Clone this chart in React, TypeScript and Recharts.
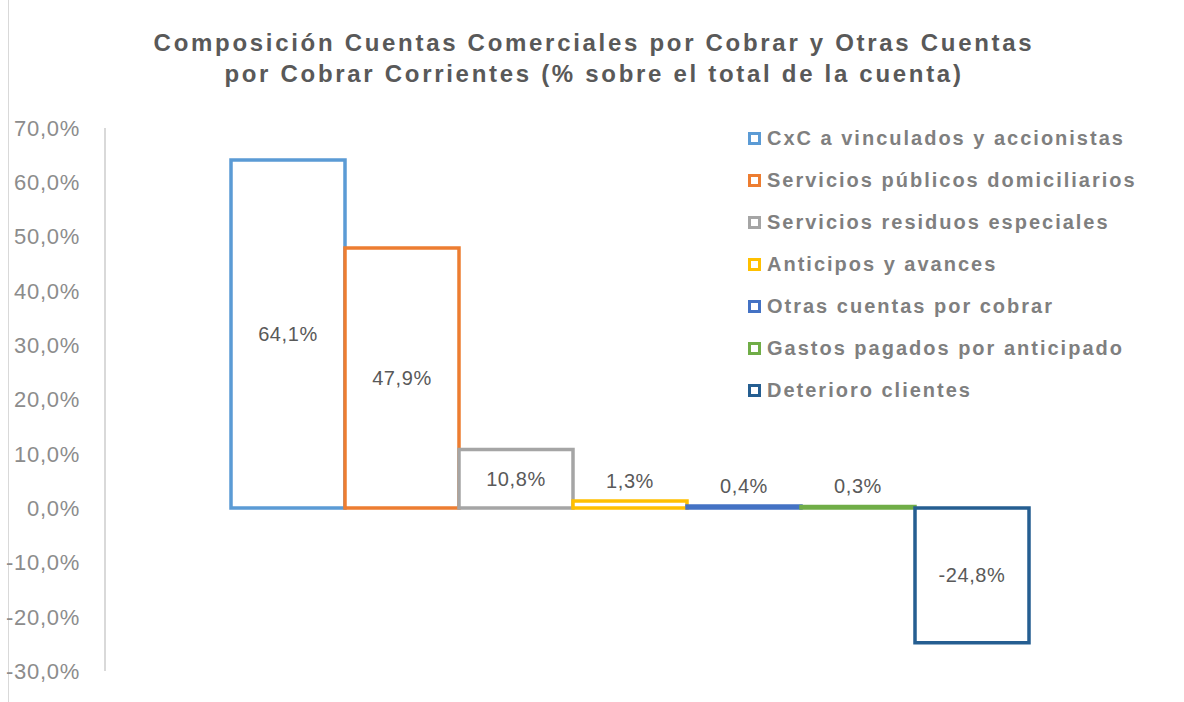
import { BarChart, Bar, XAxis, YAxis, LabelList } from "recharts";

// Series names (legend order) and their values, % of the account total
const seriesNames = [
  "CxC a vinculados y accionistas",
  "Servicios públicos domiciliarios",
  "Servicios residuos especiales",
  "Anticipos y avances",
  "Otras cuentas por cobrar",
  "Gastos pagados por anticipado",
  "Deterioro clientes",
];
const seriesValues = [64.1, 47.9, 10.8, 1.3, 0.4, 0.3, -24.8];
const seriesColors = ["#5B9BD5", "#ED7D31", "#A5A5A5", "#FFC000", "#4472C4", "#70AD47", "#255E91"];
const yTicks = [-30, -20, -10, 0, 10, 20, 30, 40, 50, 60, 70];

const titleLines = [
  "Composición Cuentas Comerciales por Cobrar y Otras Cuentas",
  "por Cobrar Corrientes (% sobre el total de la cuenta)",
];

const FONT = "'Liberation Sans', Arial, sans-serif";

const fmtPct = (v: number) => v.toFixed(1).replace(".", ",") + "%";

// one category, one key per series
const chartData = [
  seriesNames.reduce(
    (row, name, i) => ({ ...row, [`s${i}`]: seriesValues[i] }),
    { name: "total" } as Record<string, string | number>,
  ),
];

function BarValueLabel(props: any) {
  const { x, y, width, height, value } = props;
  const top = Math.min(y, y + height);
  const h = Math.abs(height);
  const cx = x + width / 2;
  // small bars get the label above, the rest centred
  const cy = h < 24 ? top - 20 : top + h / 2;
  return (
    <text
      x={cx}
      y={cy}
      textAnchor="middle"
      dominantBaseline="central"
      fontFamily={FONT}
      fontSize={20}
      letterSpacing={0.6}
      fill="#595959"
    >
      {fmtPct(Number(value))}
    </text>
  );
}

function ChartLegend() {
  return (
    <div
      style={{
        position: "absolute",
        left: 748,
        top: 117,
        fontFamily: FONT,
      }}
    >
      {seriesNames.map((name, i) => (
        <div
          key={name}
          style={{ display: "flex", alignItems: "center", height: 42 }}
        >
          <span
            style={{
              width: 7,
              height: 7,
              border: `3px solid ${seriesColors[i]}`,
              background: "#fff",
              marginRight: 6,
              flex: "none",
            }}
          />
          <span
            style={{
              fontSize: 20,
              fontWeight: "bold",
              color: "#7F7F7F",
              letterSpacing: 2,
              whiteSpace: "nowrap",
            }}
          >
            {name}
          </span>
        </div>
      ))}
    </div>
  );
}

export default function App() {
  return (
    <div
      style={{
        position: "absolute",
        left: 0,
        top: 0,
        width: 1184,
        height: 702,
        background: "#fff",
        overflow: "hidden",
      }}
    >
      <div
        style={{
          position: "absolute",
          left: 8,
          top: 0,
          width: 1,
          height: 702,
          background: "#D9D9D9",
        }}
      />
      <BarChart
        width={1184}
        height={702}
        data={chartData}
        margin={{ top: 128, right: 29, bottom: 31, left: 0 }}
        barGap={0}
      >
        <XAxis dataKey="name" hide />
        <YAxis
          type="number"
          domain={[-30, 70]}
          ticks={yTicks}
          width={105}
          interval={0}
          tickFormatter={fmtPct}
          tickLine={false}
          tickSize={0}
          tickMargin={25}
          axisLine={{ stroke: "#D9D9D9", strokeWidth: 2 }}
          tick={{ fontFamily: FONT, fontSize: 22, fill: "#8C8C8C", letterSpacing: 0.7 }}
        />
        {seriesNames.map((name, i) => (
          <Bar
            key={name}
            dataKey={`s${i}`}
            name={name}
            barSize={114}
            fill="#FFFFFF"
            stroke={seriesColors[i]}
            strokeWidth={3.5}
            isAnimationActive={false}
          >
            <LabelList dataKey={`s${i}`} content={BarValueLabel} />
          </Bar>
        ))}
      </BarChart>
      <div
        style={{
          position: "absolute",
          left: 0,
          top: 27,
          width: 1188,
          textAlign: "center",
          fontFamily: FONT,
          fontWeight: "bold",
          fontSize: 24,
          lineHeight: "31px",
          letterSpacing: 2.7,
          color: "#595959",
        }}
      >
        {titleLines.map((l) => (
          <div key={l}>{l}</div>
        ))}
      </div>
      <ChartLegend />
    </div>
  );
}
